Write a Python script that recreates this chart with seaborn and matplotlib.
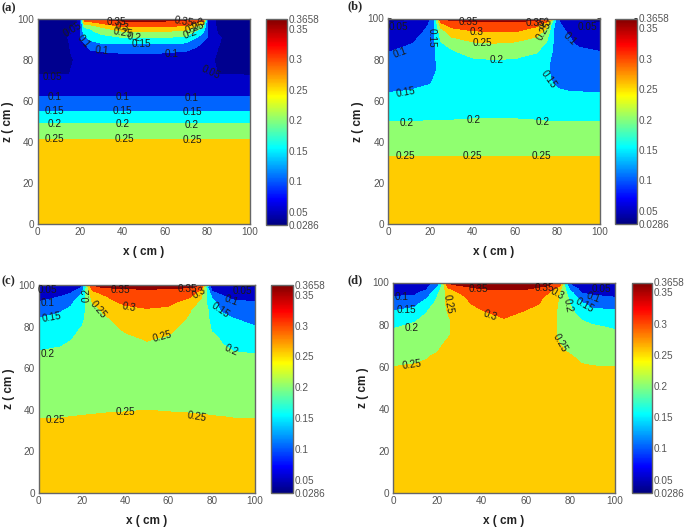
import numpy as np
import seaborn as sns
import matplotlib
matplotlib.use("Agg")
import matplotlib.pyplot as plt
from matplotlib.colors import Normalize, LinearSegmentedColormap
from matplotlib.cm import ScalarMappable

# contour levels and colorbar ticks
levels = [0.0286, 0.05, 0.1, 0.15, 0.2, 0.25, 0.3, 0.35, 0.3658]
cbar_ticks = [0.0286, 0.05, 0.1, 0.15, 0.2, 0.25, 0.3, 0.35, 0.3658]
cbar_labels = ['0.0286', '0.05', '0.1', '0.15', '0.2', '0.25', '0.3', '0.35', '0.3658']

x_cm = [0, 10, 15, 20, 22, 25, 30, 40, 50, 60, 70, 75, 78, 80, 85, 90, 100]

# panel a: one list per x position, bottom to top
a_z = [0, 41, 49, 55, 62, 68, 73, 80, 84, 88, 91, 94, 96, 99, 100]
a_base = [.27, .25, .2, .15, .1, .07]
a_upper = [
    [.05, .04, .035, .033, .032, .032, .03, .03, .03],
    [.05, .042, .04, .04, .04, .038, .035, .032, .03],
    [.05, .045, .048, .05, .052, .045, .04, .035, .035],
    [.055, .058, .07, .09, .1, .09, .08, .055, .05],
    [.06, .075, .085, .097, .14, .18, .2, .3, .33],
    [.06, .07, .09, .135, .165, .19, .21, .31, .35],
    [.06, .075, .1, .148, .18, .22, .25, .33, .355],
    [.06, .078, .105, .15, .2, .25, .295, .35, .36],
    [.06, .075, .106, .152, .2, .25, .295, .35, .36],
    [.06, .075, .104, .15, .2, .25, .295, .35, .36],
    [.06, .07, .097, .145, .19, .24, .285, .34, .36],
    [.06, .068, .08, .115, .15, .19, .23, .32, .355],
    [.058, .063, .072, .09, .115, .16, .2, .3, .35],
    [.055, .058, .065, .08, .1, .095, .095, .09, .09],
    [.05, .045, .048, .052, .055, .045, .04, .035, .033],
    [.05, .04, .038, .038, .038, .035, .033, .03, .03],
    [.048, .04, .035, .033, .032, .032, .03, .03, .03],
]

# panel b: one list per x position, bottom to top
b_z = [0, 33, 42, 50, 64, 70, 75, 80, 84, 88, 91, 94, 97, 99, 100]
b_base = [.27, .25, .225]
b_upper = [
    [.199, .15, .135, .125, .11, .098, .09, .08, .07, .055, .045, .04],
    [.2, .152, .14, .13, .12, .112, .097, .085, .07, .06, .05, .045],
    [.2, .157, .14, .125, .115, .11, .105, .102, .09, .08, .07, .06],
    [.201, .16, .145, .135, .135, .13, .125, .12, .115, .105, .102, .1],
    [.201, .165, .155, .145, .145, .147, .148, .149, .15, .15, .15, .16],
    [.201, .17, .165, .16, .17, .18, .197, .21, .23, .28, .33, .35],
    [.201, .175, .17, .165, .175, .195, .215, .25, .28, .32, .35, .36],
    [.202, .178, .17, .17, .195, .22, .245, .27, .3, .335, .354, .36],
    [.202, .18, .17, .17, .2, .225, .25, .275, .303, .34, .354, .36],
    [.202, .178, .17, .17, .197, .22, .245, .27, .305, .335, .354, .36],
    [.201, .175, .17, .165, .18, .205, .225, .25, .28, .31, .35, .36],
    [.2, .17, .16, .155, .16, .175, .195, .21, .235, .26, .32, .35],
    [.2, .16, .145, .14, .14, .145, .148, .148, .152, .165, .19, .25],
    [.2, .155, .14, .13, .125, .125, .125, .12, .115, .11, .105, .095],
    [.2, .152, .135, .125, .115, .11, .105, .103, .095, .08, .07, .06],
    [.2, .151, .13, .12, .11, .105, .095, .085, .07, .06, .05, .045],
    [.199, .15, .13, .115, .105, .1, .09, .08, .07, .055, .045, .04],
]

# panel c: one list per z position, left to right
c_z = [0, 36, 39, 50, 60, 68, 74, 79, 84, 88, 92, 95, 97, 99, 100]
c_rows = [
    [.28] * 17,
    [.25, .25, .251, .252, .252, .253, .254, .255, .256, .255, .254, .253, .252, .252, .251, .25, .25],
    [.245, .246, .247, .247, .248, .248, .249, .25, .251, .25, .249, .248, .248, .247, .247, .246, .245],
    [.222, .224, .226, .228, .229, .23, .232, .236, .238, .236, .232, .23, .229, .228, .226, .224, .222],
    [.208, .21, .213, .216, .218, .222, .226, .232, .234, .232, .226, .222, .218, .216, .213, .21, .206],
    [.201, .204, .207, .212, .215, .22, .228, .236, .24, .236, .226, .22, .212, .208, .203, .2, .199],
    [.185, .193, .199, .208, .212, .217, .228, .242, .252, .246, .232, .222, .21, .205, .198, .19, .182],
    [.168, .178, .187, .203, .208, .218, .234, .255, .265, .257, .238, .222, .208, .198, .185, .175, .155],
    [.15, .16, .17, .19, .205, .222, .242, .27, .283, .272, .245, .222, .205, .19, .168, .15, .137],
    [.125, .145, .158, .185, .205, .23, .258, .287, .295, .288, .252, .228, .205, .18, .14, .125, .115],
    [.1, .12, .14, .175, .205, .255, .285, .31, .32, .315, .28, .24, .19, .165, .125, .105, .1],
    [.085, .095, .11, .16, .21, .275, .298, .325, .335, .33, .31, .26, .19, .14, .1, .085, .08],
    [.07, .08, .09, .13, .22, .295, .32, .34, .345, .34, .325, .29, .19, .1, .08, .07, .065],
    [.055, .06, .065, .1, .2, .34, .354, .356, .356, .356, .354, .335, .15, .08, .06, .05, .05],
    [.05, .05, .055, .09, .25, .35, .36, .365, .365, .365, .36, .35, .2, .07, .05, .045, .045],
]

# panel d: one list per z position, left to right
d_z = [0, 60, 65, 70, 75, 79, 83, 87, 90, 93, 95, 97, 99, 100]
d_rows = [
    [.29] * 17,
    [.25, .252, .254, .256, .258, .262, .268, .275, .278, .275, .268, .262, .258, .256, .253, .251, .25],
    [.24, .245, .248, .254, .26, .265, .272, .28, .283, .28, .272, .264, .256, .252, .243, .238, .236],
    [.225, .23, .235, .243, .25, .26, .272, .285, .29, .285, .272, .252, .243, .238, .23, .225, .222],
    [.21, .216, .222, .232, .238, .247, .268, .288, .293, .288, .268, .242, .232, .226, .216, .21, .207],
    [.197, .206, .212, .222, .23, .245, .27, .292, .298, .292, .27, .242, .228, .218, .21, .204, .196],
    [.18, .195, .207, .222, .232, .247, .27, .293, .3, .295, .27, .243, .225, .212, .197, .187, .18],
    [.147, .16, .195, .22, .235, .255, .28, .3, .315, .3, .28, .24, .225, .205, .172, .155, .15],
    [.125, .135, .175, .212, .235, .262, .29, .31, .325, .315, .29, .243, .222, .197, .155, .135, .128],
    [.102, .105, .14, .203, .228, .268, .29, .325, .335, .33, .29, .246, .215, .18, .125, .11, .1],
    [.09, .095, .115, .19, .222, .275, .3, .335, .342, .34, .3, .25, .205, .165, .1, .09, .085],
    [.075, .08, .095, .16, .215, .29, .33, .35, .352, .352, .335, .265, .19, .13, .085, .07, .07],
    [.06, .07, .08, .13, .205, .345, .355, .358, .358, .358, .355, .32, .16, .1, .07, .055, .055],
    [.05, .06, .07, .11, .2, .355, .36, .365, .365, .365, .36, .34, .15, .09, .06, .05, .045],
]

# contour labels: text, x, z, rotation
a_labels = [
    ('0.25', 8, 41.5, 0), ('0.25', 41, 41.5, 0), ('0.25', 73, 41, 0),
    ('0.2', 8, 48.8, 0), ('0.2', 40, 48.8, 0), ('0.2', 72.5, 48.5, 0),
    ('0.15', 8, 55, 0), ('0.15', 40, 55, 0), ('0.15', 73, 54.5, 0),
    ('0.1', 8, 62, 0), ('0.1', 40, 62, 0), ('0.1', 72.5, 61.5, 0),
    ('0.05', 7, 71.8, 0), ('0.05', 81.5, 74, -25), ('0.05', 16.5, 95, 30),
    ('0.1', 21.5, 89, -50), ('0.1', 30.5, 84.5, -5), ('0.1', 63, 83, 0),
    ('0.15', 49, 87.7, 0), ('0.2', 45.5, 91, -10), ('0.25', 40, 93.5, -10),
    ('0.3', 40, 96, -10), ('0.35', 37, 98.5, 0), ('0.35', 69, 98.5, -10),
    ('0.3', 76, 97.5, 30), ('0.25', 74, 95.5, 20), ('0.2', 72, 93, 20),
]
b_labels = [
    ('0.25', 8, 33, 0), ('0.25', 40, 33, 0), ('0.25', 72.6, 33, 0),
    ('0.2', 8.6, 49, 0), ('0.2', 40.5, 50.8, 0), ('0.2', 72.8, 49.7, 0),
    ('0.15', 8.6, 64, 10), ('0.15', 75.6, 70.5, -55), ('0.15', 20.4, 90.5, -90),
    ('0.1', 5.7, 83.5, 20), ('0.1', 85.5, 90, -45),
    ('0.05', 4.7, 96, 0), ('0.05', 94, 96, 0),
    ('0.2', 51.4, 80, 0), ('0.25', 44.4, 88, 0), ('0.3', 42, 93.5, 0),
    ('0.35', 38, 98.5, 0), ('0.35', 69.5, 98, 0), ('0.3', 74, 97.5, 30),
    ('0.25', 73.5, 94, 60),
]
c_labels = [
    ('0.25', 8, 35, 0), ('0.25', 40, 39, 0), ('0.25', 73.2, 36.5, -10),
    ('0.2', 4.2, 67, 0), ('0.2', 89, 68.8, -25),
    ('0.15', 6, 84.3, 10), ('0.15', 84, 88, -35),
    ('0.1', 4.2, 91.2, 0), ('0.1', 89, 92.6, -20),
    ('0.05', 4, 97.5, 0), ('0.05', 94, 97, 0),
    ('0.25', 27.5, 88, -50), ('0.25', 57, 75.4, 15), ('0.3', 42, 89.5, -10),
    ('0.35', 37.6, 97.6, 0), ('0.2', 22, 95, 90), ('0.35', 69, 98, 0),
    ('0.3', 74, 96, 30),
]
d_labels = [
    ('0.25', 8.4, 60.8, 8), ('0.25', 75.3, 71.4, -60), ('0.25', 24.9, 89.7, -80),
    ('0.2', 8.2, 78.2, 0), ('0.2', 78.8, 89, -80),
    ('0.15', 6, 86.9, 0), ('0.15', 86.5, 89, -30),
    ('0.1', 4, 93, 0), ('0.1', 90, 93, -20), ('0.05', 94, 97, 0),
    ('0.3', 43.7, 84.3, -20), ('0.35', 38.3, 97, 0), ('0.35', 68, 97.5, 0),
    ('0.3', 74, 94.5, -30),
]

# pixel boxes: left, top, right, bottom
boxes = {
    'a': ((37.5, 19, 250, 224), (266, 19, 287, 225)),
    'b': ((388, 18.5, 600, 224), (615, 18.5, 637, 224)),
    'c': ((38.6, 285, 255, 493), (271, 285, 293, 493)),
    'd': ((393, 282.5, 615, 493), (632, 282.5, 652, 493)),
}
title_pos = {'a': (1, 8), 'b': (347, 6), 'c': (1, 281), 'd': (347, 280)}

W, H = 685, 531


def px_rect(box):
    l, t, r, b = box
    return [l / W, 1 - b / H, (r - l) / W, (b - t) / H]


sns.set_style("ticks")
plt.rcParams['font.family'] = ['Liberation Sans', 'DejaVu Sans']
# old matlab style jet, the matplotlib one has its yellow and cyan elsewhere
jet = LinearSegmentedColormap.from_list('old_jet', [
    (0, '#000080'), (.125, '#0000ff'), (.375, '#00ffff'),
    (.625, '#ffff00'), (.875, '#ff0000'), (1, '#800000')])
norm = Normalize(levels[0], levels[-1])
band_colors = ['#00008f', '#0000c8', '#0064ff', '#00ffff',
               '#90ff70', '#ffcc00', '#ff4600', '#8f0000']
EDGE = '#666666'
TICK_TEXT = '#555555'


def draw_panel(fig, name, z_cm, grid, labels):
    ax_box, cb_box = boxes[name]
    ax = fig.add_axes(px_rect(ax_box))
    ax.contourf(x_cm, z_cm, grid, levels=levels, colors=band_colors)
    for text, x, z, rot in labels:
        ax.text(x, z, text, fontsize=7.2, color='#1a1a1a', rotation=rot,
                ha='center', va='center', rotation_mode='anchor')
    ax.set_xlim(0, 100)
    ax.set_ylim(0, 100)
    ax.set_xticks(range(0, 101, 20))
    ax.set_yticks(range(0, 101, 20))
    ax.tick_params(direction='in', top=True, right=True, length=2.5, width=0.7,
                   labelsize=7.2, color='#444444', labelcolor=TICK_TEXT, pad=2.5)
    ax.set_xlabel('x ( cm )', fontsize=8.5, fontweight='bold', color='#222222', labelpad=6)
    ax.set_ylabel('z ( cm )', fontsize=8.5, fontweight='bold', color='#222222', labelpad=2.5)
    for spine in ax.spines.values():
        spine.set_linewidth(1.0)
        spine.set_color(EDGE)

    cax = fig.add_axes(px_rect(cb_box))
    cb = fig.colorbar(ScalarMappable(norm=norm, cmap=jet), cax=cax)
    cb.set_ticks(cbar_ticks)
    cb.set_ticklabels(cbar_labels)
    cb.ax.tick_params(direction='in', length=2, width=0.7, labelsize=7.2,
                      color='#333333', labelcolor=TICK_TEXT, pad=1.5)
    cb.outline.set_linewidth(1.0)
    cb.outline.set_edgecolor(EDGE)

    tx, ty = title_pos[name]
    fig.text(tx / W, 1 - ty / H, f'({name})', fontsize=9, fontweight='bold',
             family='Liberation Serif', va='center', ha='left')


fig = plt.figure(figsize=(W / 100, H / 100), dpi=100)
a_grid = np.array([a_base + col for col in a_upper]).T
b_grid = np.array([b_base + col for col in b_upper]).T
draw_panel(fig, 'a', a_z, a_grid, a_labels)
draw_panel(fig, 'b', b_z, b_grid, b_labels)
draw_panel(fig, 'c', c_z, np.array(c_rows), c_labels)
draw_panel(fig, 'd', d_z, np.array(d_rows), d_labels)
fig.savefig('out.png', dpi=100)
